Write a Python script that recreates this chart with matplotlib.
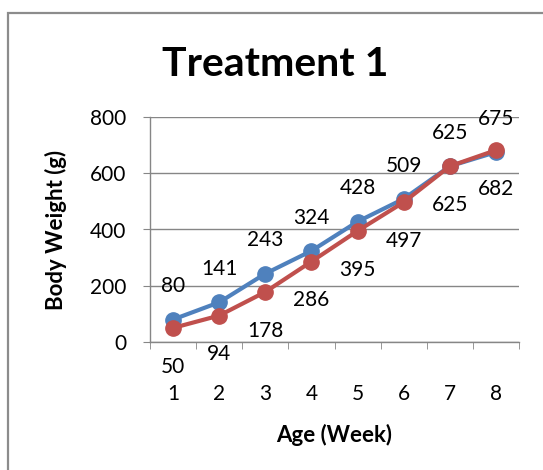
import matplotlib
matplotlib.use("Agg")
import matplotlib.pyplot as plt
from matplotlib.patches import Rectangle

weeks = [1, 2, 3, 4, 5, 6, 7, 8]
week_labels = ["1", "2", "3", "4", "5", "6", "7", "8"]
series_a = [80, 141, 243, 324, 428, 509, 625, 675]
series_b = [50, 94, 178, 286, 395, 497, 625, 682]
y_ticks = [0, 200, 400, 600, 800]

BLUE = "#4F81BD"
RED = "#C0504D"
GRID = "#868686"

plt.rcParams["font.family"] = ["Lato", "DejaVu Sans"]

fig = plt.figure(figsize=(5.43, 4.70), dpi=100)
ax = fig.add_axes([150 / 543, 1 - 342 / 470, 369 / 543, 225 / 470])

# chart frame (runs off the right and bottom of the crop)
fig.add_artist(Rectangle((8 / 543, -0.2), 1.2, 1.2 - 13 / 470,
                         transform=fig.transFigure, fill=False,
                         edgecolor="#8C8C8C", linewidth=1.6, clip_on=False))

ax.plot(weeks, series_a, color=BLUE, lw=3, marker="o", ms=11, zorder=3)
ax.plot(weeks, series_b, color=RED, lw=3, marker="o", ms=11, zorder=4)

for x, v in zip(weeks, series_a):
    ax.annotate(str(v), (x, v), xytext=(0, 24), textcoords="offset points",
                ha="center", va="center", fontsize=15, clip_on=False)
for x, v in zip(weeks, series_b):
    ax.annotate(str(v), (x, v), xytext=(0, -28), textcoords="offset points",
                ha="center", va="center", fontsize=15, clip_on=False)

ax.set_xlim(0.5, 8.5)
ax.set_ylim(0, 800)
ax.set_yticks(y_ticks)
ax.set_yticklabels([str(t) for t in y_ticks], fontsize=15)
ax.set_xticks(weeks)
ax.set_xticklabels(week_labels, fontsize=15)
ax.set_xticks([w + 0.5 for w in [0] + weeks], minor=True)
ax.tick_params(axis="x", which="major", length=0, pad=30)
ax.tick_params(axis="x", which="minor", length=5, color=GRID, direction="out")
ax.tick_params(axis="y", length=5, color=GRID, pad=12)

ax.grid(axis="y", color=GRID, lw=1)
ax.set_axisbelow(True)
for s in ["top", "right"]:
    ax.spines[s].set_visible(False)
for s in ["left", "bottom"]:
    ax.spines[s].set_color(GRID)
    ax.spines[s].set_linewidth(1)

fig.text(275 / 543, 1 - 64 / 470, "Treatment 1", ha="center", va="center",
         fontsize=29.5, fontweight="bold")
fig.text(334 / 543, 1 - 435 / 470, "Age (Week)", ha="center", va="center",
         fontsize=16, fontweight="bold")
fig.text(56 / 543, 1 - 230 / 470, "Body Weight (g)", ha="center", va="center",
         fontsize=16, fontweight="bold", rotation=90)

fig.savefig("out.png", dpi=100)
